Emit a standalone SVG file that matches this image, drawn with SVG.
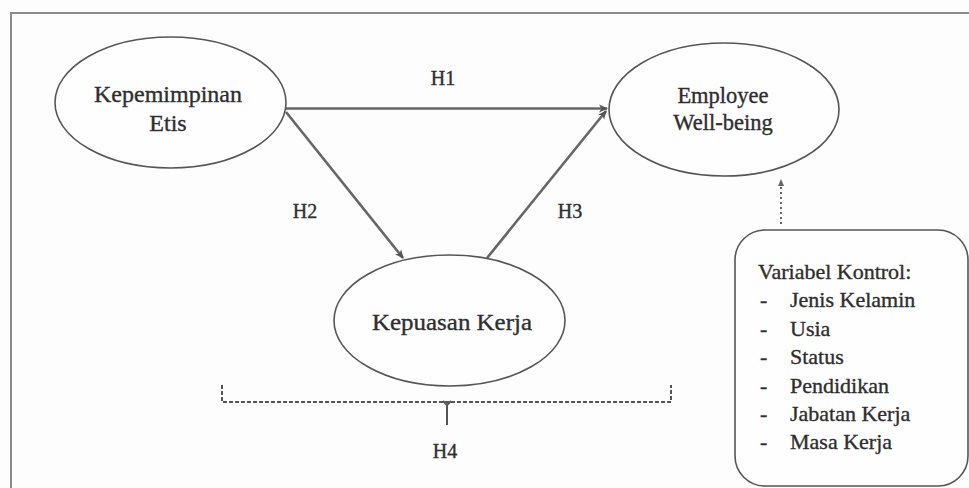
<svg xmlns="http://www.w3.org/2000/svg" width="969" height="488" viewBox="0 0 969 488">
<style>
.bg{fill:#fdfdfd}
.frame{fill:none;stroke:#8a8a8a;stroke-width:2}
.node{fill:#fefefe;stroke:#555;stroke-width:1.6}
text{font-family:'Liberation Serif',serif;fill:#2e2e2e;stroke:#2e2e2e;stroke-width:0.35}
.t{text-anchor:middle}
.tl{font-size:22px}
.arrow{fill:none;stroke:#666;stroke-width:2.6}
.dot{fill:none;stroke:#666;stroke-width:2;stroke-dasharray:2 3}
.dash{fill:none;stroke:#555;stroke-width:2;stroke-dasharray:4 2}
.solid{fill:none;stroke:#555;stroke-width:2}
</style>
<defs>
<marker id="ah" markerWidth="10" markerHeight="10" refX="8" refY="5" orient="auto" markerUnits="userSpaceOnUse">
<path d="M0,1 L9,5 L0,9 L2.5,5 Z" fill="#555"/>
</marker>
<marker id="ahs" markerWidth="8" markerHeight="8" refX="6" refY="4" orient="auto" markerUnits="userSpaceOnUse">
<path d="M0,1 L7,4 L0,7 Z" fill="#666"/>
</marker>
</defs>
<rect class="bg" x="0" y="0" width="969" height="488"/>
<rect class="frame" x="11" y="13" width="970" height="490"/>

<g id="connectors">
<line class="arrow" x1="286" y1="108.5" x2="607" y2="108.5" marker-end="url(#ah)"/>
<line class="arrow" x1="286" y1="112" x2="403" y2="258" marker-end="url(#ah)"/>
<line class="arrow" x1="487" y1="258" x2="606" y2="111" marker-end="url(#ah)"/>
<line class="dot" x1="781" y1="224" x2="781" y2="180" marker-end="url(#ahs)"/>
<g id="bracket">
<path class="dash" d="M222,385 L222,402 L671,402 L671,385"/>
<path class="solid" d="M443,401 L447,405 L451,401 M447,405 L447,425"/>
</g>
<text class="t" x="443" y="85" font-size="20">H1</text>
<text class="t" x="305" y="218" font-size="20">H2</text>
<text class="t" x="570" y="218" font-size="20">H3</text>
<text class="t" x="445" y="458" font-size="20">H4</text>
</g>

<g id="kepemimpinan-etis">
<ellipse class="node" cx="170.5" cy="102.5" rx="115.5" ry="65.5"/>
<text class="t" x="168" y="102" font-size="24">Kepemimpinan</text>
<text class="t" x="168" y="131" font-size="24">Etis</text>
</g>

<g id="employee-well-being">
<ellipse class="node" cx="724" cy="109.5" rx="115" ry="66.5"/>
<text class="t" x="723" y="103" font-size="22.5">Employee</text>
<text class="t" x="723" y="130" font-size="22.5">Well-being</text>
</g>

<g id="kepuasan-kerja">
<ellipse class="node" cx="449.5" cy="320.5" rx="115.5" ry="65.5"/>
<text class="t" x="452" y="330" font-size="24" textLength="160" lengthAdjust="spacingAndGlyphs">Kepuasan Kerja</text>
</g>

<g id="variabel-kontrol">
<rect class="node" x="735" y="230" width="233" height="256" rx="30" ry="30"/>
<text class="tl" x="758" y="279">Variabel Kontrol:</text>
<text class="tl" x="760" y="307">-</text><text class="tl" x="790" y="307">Jenis Kelamin</text>
<text class="tl" x="760" y="336">-</text><text class="tl" x="790" y="336">Usia</text>
<text class="tl" x="760" y="364">-</text><text class="tl" x="790" y="364">Status</text>
<text class="tl" x="760" y="393">-</text><text class="tl" x="790" y="393">Pendidikan</text>
<text class="tl" x="760" y="421">-</text><text class="tl" x="790" y="421">Jabatan Kerja</text>
<text class="tl" x="760" y="449">-</text><text class="tl" x="790" y="449">Masa Kerja</text>
</g>
</svg>
